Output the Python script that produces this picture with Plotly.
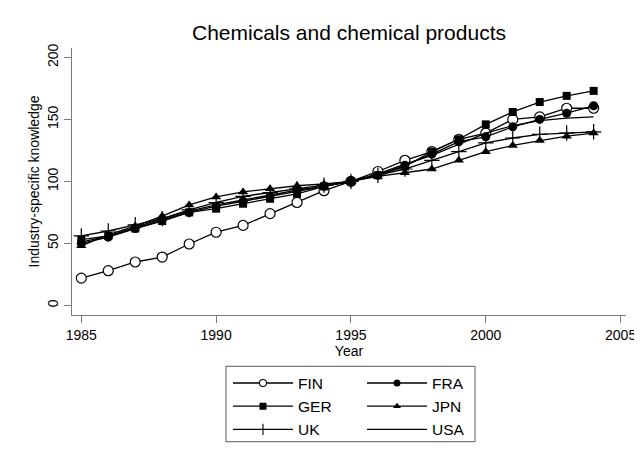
import plotly.graph_objects as go

years = list(range(1985, 2005))
FIN = [22, 28, 35, 39, 49.5, 59, 64.5, 74, 83, 92.5, 100, 108, 117, 124, 134, 139, 150, 152, 159, 159]
FRA = [50, 55, 62, 69, 75, 80, 84, 88, 92, 96, 100, 105, 113, 122, 132, 136, 144, 150, 155, 161]
GER = [53, 56, 62, 68, 75, 78, 82, 86, 90, 96, 100, 105, 112, 124, 134, 146, 156, 164, 169, 173]
JPN = [48, 57, 64, 72, 81, 87.5, 91.5, 94, 96.5, 98, 100, 104, 107, 110, 117, 124, 129, 133, 136.5, 139]
UK = [56, 60, 65, 70, 77, 83, 88, 91, 94, 97, 100, 105, 110, 117, 124, 131, 135, 138, 139, 140]
USA = [51, 56, 63, 70, 76, 81, 85, 89, 93, 96, 100, 106, 114, 121, 130, 139, 145, 149, 151, 152]

x_ticks = [1985, 1990, 1995, 2000, 2005]
y_ticks = [0, 50, 100, 150, 200]

FONT = "Liberation Sans, Arial, Helvetica, sans-serif"

series = [
    ("FIN", FIN, dict(symbol="circle", size=10, color="white", line=dict(color="black", width=1.2)),
     dict(symbol="circle", size=7, color="white", line=dict(color="black", width=1.1)), "legend"),
    ("FRA", FRA, dict(symbol="circle", size=9, color="black"),
     dict(symbol="circle", size=7, color="black"), "legend2"),
    ("GER", GER, dict(symbol="square", size=8, color="black"),
     dict(symbol="square", size=7, color="black"), "legend"),
    ("JPN", JPN, dict(symbol="triangle-up", size=9, color="black"),
     dict(symbol="triangle-up", size=7, color="black"), "legend2"),
    ("UK", UK, dict(symbol="cross-thin", size=11, color="black", line=dict(color="black", width=1.2)),
     dict(symbol="line-ns", size=8, color="black", line=dict(color="black", width=1.1)), "legend"),
    ("USA", USA, None, None, "legend2"),
]

fig = go.Figure()
for name, vals, mk, lmk, lg in series:
    fig.add_trace(go.Scatter(
        x=years, y=vals, name=name,
        mode="lines+markers" if mk else "lines",
        line=dict(color="black", width=1.3),
        marker=mk if mk else None,
        showlegend=False,
    ))
for name, vals, mk, lmk, lg in series:
    # legend-only entry (smaller key symbol, as in the reference legend)
    fig.add_trace(go.Scatter(
        x=[None], y=[None], name=name,
        mode="lines+markers" if lmk else "lines",
        line=dict(color="black", width=1.3),
        marker=lmk if lmk else None,
        legend=lg, showlegend=True, hoverinfo="skip",
    ))

# the page body has an 8px margin: figure sits at (8, 8) in the window
W, H = 634, 451
axis_col = "#7a7a7a"
fig.update_layout(
    width=W, height=H,
    margin=dict(l=64, r=16, t=40, b=141),
    paper_bgcolor="white", plot_bgcolor="white",
    font=dict(family=FONT, color="black", size=14),
    title=dict(text="Chemicals and chemical products", x=0.5, xref="paper",
               y=1 - 25 / H, yanchor="middle",
               font=dict(size=21, family=FONT, color="black")),
    xaxis=dict(range=[1984.655, 2005.2], tickvals=x_ticks, showgrid=False, zeroline=False,
               showline=True, linecolor=axis_col, linewidth=1.2, automargin=False,
               ticks="outside", ticklen=7, tickcolor=axis_col, tickwidth=1.2,
               tickfont=dict(size=14), title=dict(text="Year", font=dict(size=14), standoff=4)),
    yaxis=dict(range=[-7.76, 207.6], tickvals=y_ticks, showgrid=False, zeroline=False,
               showline=True, linecolor=axis_col, linewidth=1.2, automargin=False,
               ticks="outside", ticklen=7, tickcolor=axis_col, tickwidth=1.2,
               tickangle=-90, tickfont=dict(size=14),
               title=dict(text="Industry-specific knowledge", font=dict(size=14), standoff=2)),
    legend=dict(x=(228 - 72) / 554, y=(318 - 370) / 270, xanchor="left", yanchor="top",
                xref="paper", yref="paper", bgcolor="rgba(0,0,0,0)",
                font=dict(size=15.5), itemwidth=60, tracegroupgap=0),
    legend2=dict(x=(362 - 72) / 554, y=(318 - 370) / 270, xanchor="left", yanchor="top",
                 xref="paper", yref="paper", bgcolor="rgba(0,0,0,0)",
                 font=dict(size=15.5), itemwidth=60, tracegroupgap=0),
    shapes=[dict(type="rect", xref="paper", yref="paper",
                 x0=(226 - 72) / 554, x1=(475 - 72) / 554,
                 y0=(318 - 446) / 270, y1=(318 - 370) / 270,
                 line=dict(color="#777777", width=1.2), fillcolor="rgba(0,0,0,0)")],
)

fig.write_html("out.html")
